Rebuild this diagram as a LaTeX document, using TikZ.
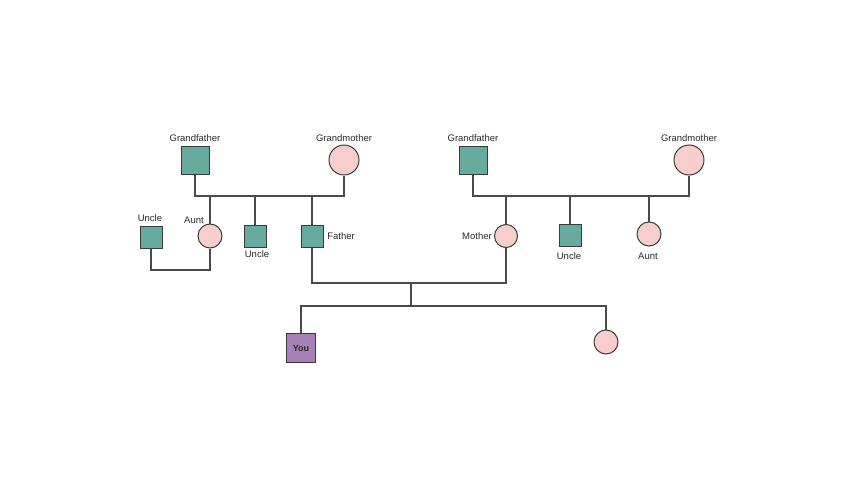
\documentclass[tikz,border=0pt]{standalone}
\usepackage{fontspec}
\setmainfont{Liberation Sans}
\definecolor{tealc}{HTML}{67AB9F}
\definecolor{pinkc}{HTML}{F8CECC}
\definecolor{purplec}{HTML}{A680B8}
\definecolor{strokec}{HTML}{3C3C3C}
\definecolor{linec}{HTML}{4A4A4A}
\definecolor{textc}{HTML}{2A2A2A}
\begin{document}
\begin{tikzpicture}[x=1pt,y=-1pt,
  male/.style={rectangle, draw=strokec, fill=tealc, line width=1pt, minimum size=#1, inner sep=0pt},
  female/.style={circle, draw=strokec, fill=pinkc, line width=1pt, minimum size=#1, inner sep=0pt},
  selfbox/.style={rectangle, draw=strokec, fill=purplec, line width=1pt, minimum size=#1, inner sep=0pt, font=\fontsize{9}{11}\selectfont\bfseries, text=textc},
  lbl/.style={font=\fontsize{9.5}{11}\selectfont, text=textc, inner sep=0pt},
  link/.style={draw=linec, line width=1.2pt}]
\useasboundingbox (0,0) rectangle (850,500);
\fill[white] (0,0) rectangle (850,500);

% left grandparents
\node[male=28pt] (gf1) at (195,160) {};
\node[female=30pt] (gm1) at (344,160) {};
\node[lbl] (gf1l) at (195,138) {Grandfather};
\node[lbl] (gm1l) at (344,138) {Grandmother};

% left generation 2
\node[male=22pt] (unc0) at (151,237) {};
\node[lbl] (unc0l) at (150,218) {Uncle};
\node[female=24pt] (aunt1) at (210,236) {};
\node[lbl] (aunt1l) at (194,220.5) {Aunt};
\node[male=22pt] (unc1) at (255,236) {};
\node[lbl] (unc1l) at (257,254) {Uncle};
\node[male=22pt] (father) at (312,236) {};
\node[lbl] (fatherl) at (341,236) {Father};

% right grandparents
\node[male=28pt] (gf2) at (473,160) {};
\node[female=30pt] (gm2) at (689,160) {};
\node[lbl] (gf2l) at (473,138) {Grandfather};
\node[lbl] (gm2l) at (689,138) {Grandmother};

% right generation 2
\node[female=23pt] (mother) at (506,236) {};
\node[lbl] (motherl) at (477,236.5) {Mother};
\node[male=22pt] (unc2) at (570,235) {};
\node[lbl] (unc2l) at (569,256.5) {Uncle};
\node[female=24pt] (aunt2) at (649,234) {};
\node[lbl] (aunt2l) at (648,256.5) {Aunt};

% generation 3
\node[selfbox=29pt] (you) at (301,348) {You};
\node[female=24pt] (sis) at (606,342) {};

% helper coordinates
\coordinate (m1) at (270,196);
\coordinate (m2) at (580,196);
\coordinate (sp) at (180,270);
\coordinate (c1) at (411,283);
\coordinate (s1) at (411,306);

% left marriage and children
\draw[link] (gf1.south) |- (m1) -| (gm1.south);
\draw[link] (aunt1.north) -- (aunt1.north |- m1);
\draw[link] (unc1.north) -- (unc1.north |- m1);
\draw[link] (father.north) -- (father.north |- m1);
\draw[link] (unc0.south) |- (sp) -| (aunt1.south);

% right marriage and children
\draw[link] (gf2.south) |- (m2) -| (gm2.south);
\draw[link] (mother.north) -- (mother.north |- m2);
\draw[link] (unc2.north) -- (unc2.north |- m2);
\draw[link] (aunt2.north) -- (aunt2.north |- m2);

% parents and children
\draw[link] (father.south) |- (c1) -| (mother.south);
\draw[link] (c1) -- (s1);
\draw[link] (you.north) |- (s1) -| (sis.north);
\end{tikzpicture}
\end{document}
